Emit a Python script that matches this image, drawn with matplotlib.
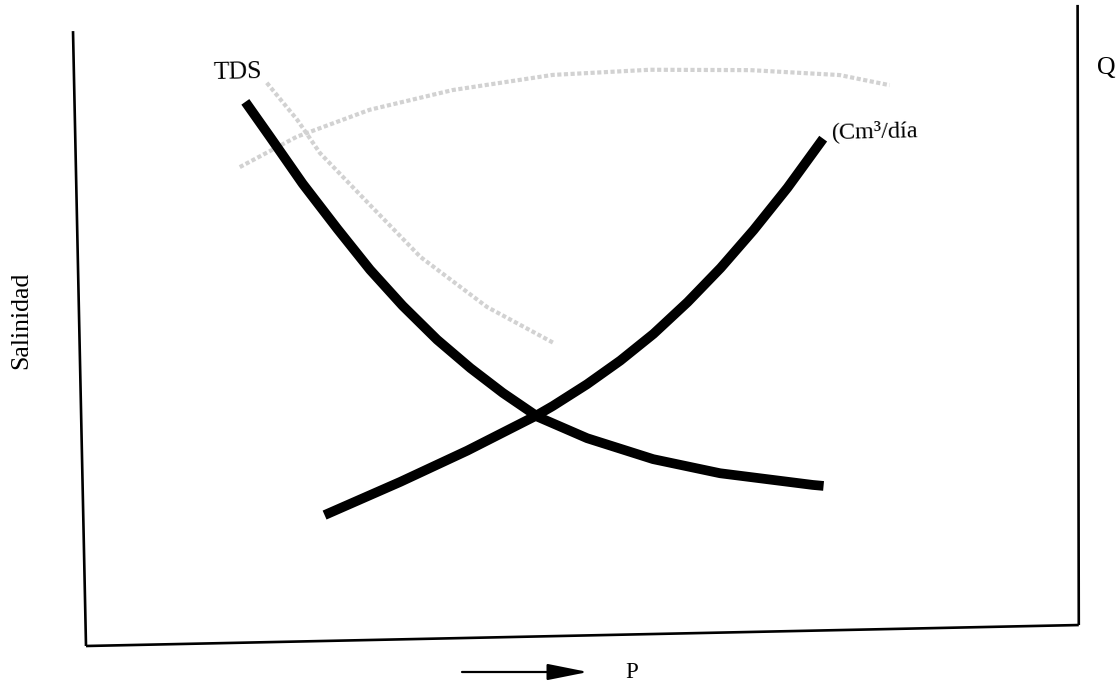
import matplotlib.pyplot as plt
from matplotlib.transforms import Affine2D

plt.rcParams['font.family'] = ['Liberation Serif', 'DejaVu Serif']

W, H, DPI = 1119, 685, 100

# schematic units: pressure P on x (0-10), salinity / flow on y (0-10)
tds_p = [1.72, 1.96, 2.28, 2.62, 2.94, 3.26, 3.60, 3.93, 4.25, 4.60, 5.09, 5.75, 6.42, 7.35, 7.46]
tds_s = [8.72, 8.15, 7.38, 6.64, 5.97, 5.38, 4.82, 4.35, 3.94, 3.54, 3.18, 2.82, 2.57, 2.35, 2.33]

q_p = [2.43, 3.20, 3.88, 4.58, 4.75, 5.10, 5.44, 5.78, 6.13, 6.47, 6.81, 7.16, 7.53]
q_v = [2.03, 2.54, 3.02, 3.56, 3.71, 4.05, 4.42, 4.84, 5.34, 5.88, 6.48, 7.15, 7.93]

# faint show-through strokes from the back of the sheet
ghost_a_p = [1.65, 2.23, 2.97, 3.81, 4.82, 5.80, 6.81, 7.71, 8.21]
ghost_a_v = [7.67, 8.14, 8.55, 8.84, 9.05, 9.10, 9.06, 8.95, 8.77]
ghost_b_p = [1.94, 2.24, 2.46, 2.95, 3.45, 4.11, 4.77]
ghost_b_v = [9.02, 8.41, 7.87, 7.02, 6.16, 5.33, 4.73]

fig = plt.figure(figsize=(W / DPI, H / DPI), dpi=DPI)
ax = fig.add_axes([86 / W, 39 / H, 993 / W, 620 / H])
ax.set_xlim(0, 10)
ax.set_ylim(0, 10)
ax.axis('off')

# the whole drawing sits slightly tilted on the page
tilt = Affine2D().rotate_deg_around(86, 39, 1.21)
tr = ax.transData + tilt

frame = dict(color='k', lw=1.9, transform=tr, clip_on=False, solid_capstyle='butt')
ax.plot([0, 10], [0, 0], **frame)
ax.plot([0, 0], [0, 9.92], **frame)
ax.plot([10, 10.12], [0, 10.0], **frame)

ghost = dict(color='#d2d2d2', lw=3, ls=(0, (1, 0.6)), transform=tr, clip_on=False)
ax.plot(ghost_a_p, ghost_a_v, **ghost)
ax.plot(ghost_b_p, ghost_b_v, **ghost)

curve = dict(color='k', lw=7, transform=tr, clip_on=False,
             solid_capstyle='butt', solid_joinstyle='round')
ax.plot(tds_p, tds_s, **curve)
ax.plot(q_p, q_v, **curve)

def put(x, y, s, **kw):
    fig.text(x / W, 1 - y / H, s, **kw)

put(238, 72, 'TDS', fontsize=18.5, ha='center', va='center', rotation=1.2)
put(831, 131, '(Cm³/día', fontsize=17.5, ha='left', va='center', rotation=1.2)
put(1106, 68, 'Q', fontsize=18.5, ha='center', va='center')
put(21, 320, 'Salinidad', fontsize=18.5, ha='center', va='center', rotation=90)
put(632, 672, 'P', fontsize=16.5, ha='center', va='center')

ax.annotate('', xy=(588, H - 672), xytext=(462, H - 672), xycoords='figure pixels',
            arrowprops=dict(arrowstyle='-|>,head_length=1.0,head_width=0.2',
                            color='k', lw=1.6, mutation_scale=25,
                            shrinkA=0, shrinkB=0))

fig.savefig('out.png', dpi=DPI)
